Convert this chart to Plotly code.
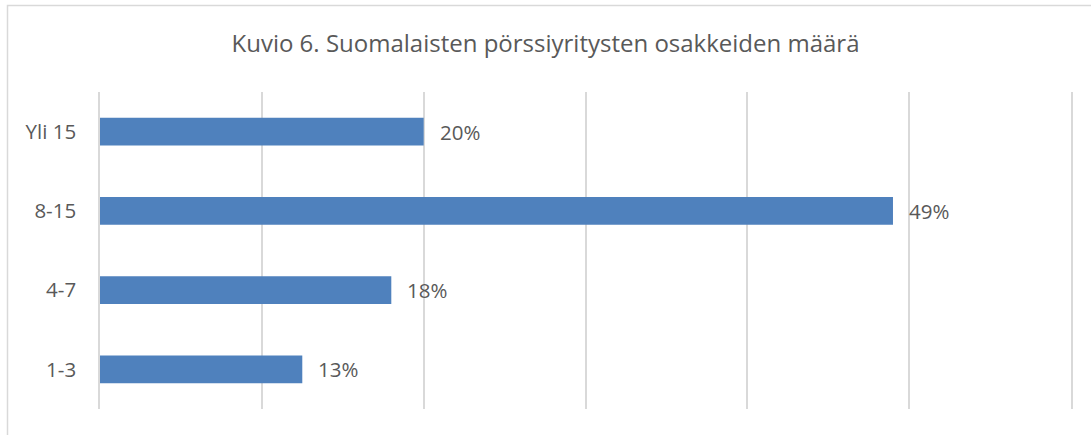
import plotly.graph_objects as go

categories = ["1-3", "4-7", "8-15", "Yli 15"]
values = [12.5, 18, 49, 20]
labels = ["13%", "18%", "49%", "20%"]
title = "Kuvio 6. Suomalaisten pörssiyritysten osakkeiden määrä"

font = "Open Sans, sans-serif"
grey = "#595959"
gridc = "#d9d9d9"

fig = go.Figure()
fig.add_trace(go.Bar(
    y=categories, x=values, orientation="h",
    marker=dict(color="#4f81bd", line=dict(width=0)),
    hoverinfo="skip", showlegend=False,
))

# data labels to the right of bar ends
for c, v, t in zip(categories, values, labels):
    fig.add_annotation(x=v, y=c, text=t, showarrow=False, xanchor="left",
                       xshift=14, font=dict(family=font, size=20.5, color=grey))

# chart border (light grey frame, partly cut off on right/bottom)
W, H = 1091, 435
l, r, t, b = 100, 20, 92, 26
pw, ph = W - l - r, H - t - b
fig.add_shape(type="rect", xref="paper", yref="paper",
              x0=(7.5 - l) / pw, x1=(W + 20 - l) / pw,
              y0=-0.3, y1=(H - b - 5.5) / ph,
              line=dict(color=gridc, width=1.5), fillcolor="rgba(0,0,0,0)", layer="below")

fig.update_layout(
    width=W, height=H,
    margin=dict(l=l, r=r, t=t, b=b),
    paper_bgcolor="white", plot_bgcolor="white",
    bargap=0.65,
    title=dict(text=title, x=0.5, xref="container", y=1 - 44 / H, yanchor="middle",
               font=dict(family=font, size=24, color=grey)),
    xaxis=dict(range=[0, 60], dtick=10, showticklabels=False, showgrid=True,
               gridcolor=gridc, gridwidth=1.5, zeroline=False, showline=False,
               fixedrange=True),
    yaxis=dict(categoryorder="array", categoryarray=categories, range=[-0.5, 3.5],
               showgrid=False, zeroline=False, showline=True, mirror=True,
               linecolor=gridc, linewidth=1.5, ticks="",
               ticklabelstandoff=18, layer="below traces",
               tickfont=dict(family=font, size=20.5, color=grey), fixedrange=True),
)

fig.write_html("out.html", post_script="document.body.style.margin='0';",
               config={"displayModeBar": False})
